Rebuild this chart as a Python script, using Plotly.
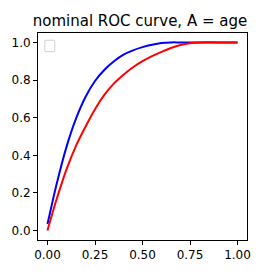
import plotly.graph_objects as go

# Values
blue_fpr = [0.0, 0.02, 0.05, 0.1, 0.15, 0.2, 0.25, 0.3, 0.35, 0.4, 0.45, 0.5, 0.55, 0.6, 0.65, 0.7, 0.85, 1.0]
blue_tpr = [0.035, 0.125, 0.255, 0.445, 0.595, 0.71, 0.795, 0.855, 0.9, 0.935, 0.958, 0.975, 0.988, 0.997, 1.0, 1.0, 1.0, 1.0]

red_fpr = [0.0, 0.02, 0.05, 0.1, 0.15, 0.2, 0.25, 0.3, 0.35, 0.4, 0.45, 0.5, 0.55, 0.6, 0.65, 0.7, 0.75, 0.8, 0.9, 1.0]
red_tpr = [0.0, 0.072, 0.173, 0.325, 0.45, 0.552, 0.645, 0.722, 0.782, 0.828, 0.868, 0.9, 0.927, 0.95, 0.97, 0.986, 0.996, 1.0, 1.0, 1.0]

x_ticks = [0.0, 0.25, 0.5, 0.75, 1.0]
x_tick_labels = ["0.00", "0.25", "0.50", "0.75", "1.00"]
y_ticks = [0.0, 0.2, 0.4, 0.6, 0.8, 1.0]
y_tick_labels = ["0.0", "0.2", "0.4", "0.6", "0.8", "1.0"]

fig = go.Figure()
fig.add_trace(go.Scatter(x=blue_fpr, y=blue_tpr, mode="lines",
                         line=dict(color="#0000ff", width=2, shape="spline", smoothing=1.0),
                         showlegend=False))
fig.add_trace(go.Scatter(x=red_fpr, y=red_tpr, mode="lines",
                         line=dict(color="#ff0000", width=2, shape="spline", smoothing=1.0),
                         showlegend=False))

axis_common = dict(showline=True, linecolor="black", linewidth=1, mirror=True,
                   ticks="outside", ticklen=4, tickcolor="black", tickwidth=1,
                   showgrid=False, zeroline=False,
                   tickfont=dict(family="DejaVu Sans", size=12, color="black"))

fig.update_layout(
    width=274, height=274,
    margin=dict(l=34, r=27, t=33, b=34),
    paper_bgcolor="white", plot_bgcolor="white",
    title=dict(text="nominal ROC curve, A = age", x=140 / 274, xanchor="center",
               xref="container", yref="container",
               y=1 - 21 / 274, yanchor="middle",
               font=dict(family="DejaVu Sans", size=15, color="black")),
    xaxis=dict(range=[-0.05, 1.05], tickvals=x_ticks, ticktext=x_tick_labels, **axis_common),
    yaxis=dict(range=[-0.05, 1.05], tickvals=y_ticks, ticktext=y_tick_labels, **axis_common),
    shapes=[dict(type="path", xref="paper", yref="paper",
                 path="M 0.0375,0.965 L 0.075,0.965 Q 0.08,0.965 0.08,0.96 L 0.08,0.915 "
                      "Q 0.08,0.91 0.075,0.91 L 0.0375,0.91 Q 0.0325,0.91 0.0325,0.915 "
                      "L 0.0325,0.96 Q 0.0325,0.965 0.0375,0.965 Z",
                 line=dict(color="#d0d0d0", width=1), fillcolor="white")],
)

fig.write_html("out.html", config={"displayModeBar": False},
               post_script="document.body.style.margin='0';")
